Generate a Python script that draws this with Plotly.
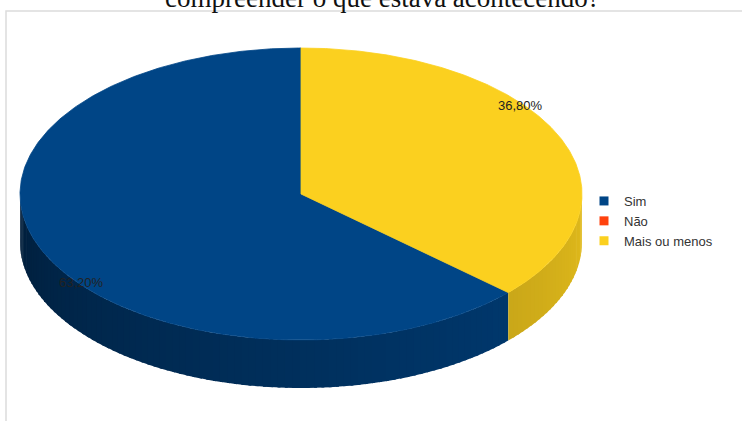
import numpy as np
import plotly.graph_objects as go

# ---- data ----
categories = ["Sim", "Não", "Mais ou menos"]
values = [63.2, 0.0, 36.8]
colors = ["#004586", "#ff420e", "#fbd01f"]
title_text = "compreender o que estava acontecendo?"

# ---- geometry of the tilted pie (pixel-like axis units) ----
W, H = 742, 421
cx, cy = 301, 194
a, b = 281, 146
depth = 48
lab_rx, lab_ry = 0.855 * a, 1.5 * b

total = sum(values)


def pt(phi_deg, rx=a, ry=b, dy=0.0):
    p = np.radians(phi_deg)
    return cx - rx * np.sin(p), cy - ry * np.cos(p) + dy


def hex_to_rgb(h):
    h = h.lstrip("#")
    return tuple(int(h[i:i + 2], 16) for i in (0, 2, 4))


def shade(h, k):
    r, g, bb = hex_to_rgb(h)
    return "rgb(%d,%d,%d)" % (min(255, r * k), min(255, g * k), min(255, bb * k))


# slice angles (counter-clockwise from 12 o'clock)
spans = []
start = 0.0
for v in values:
    ext = v / total * 360.0
    spans.append((start, start + ext))
    start += ext

fig = go.Figure()

# ---- side walls (front half only) ----
for (p0, p1), col in zip(spans, colors):
    lo, hi = max(p0, 90.0), min(p1, 270.0)
    if hi <= lo:
        continue
    n = max(1, int(np.ceil((hi - lo) / 1.5)))
    edges = np.linspace(lo, hi, n + 1)
    for i, (e0, e1) in enumerate(zip(edges[:-1], edges[1:])):
        e1x = min(hi, e1 + 0.6)
        ph = np.linspace(e0, e1x, 4)
        xs_t, ys_t = pt(ph)
        xs_b, ys_b = pt(ph[::-1], dy=depth)
        xs = np.concatenate([xs_t, xs_b])
        ys = np.concatenate([ys_t, ys_b])
        t = ((e0 + e1) / 2 - 90.0) / 180.0
        k = 0.42 + 0.48 * t ** 0.8
        c = shade(col, k)
        fig.add_trace(go.Scatter(x=xs, y=ys, mode="lines", fill="toself",
                                 fillcolor=c, line=dict(width=0),
                                 hoverinfo="skip", showlegend=False))

# ---- top faces ----
for (p0, p1), col in zip(spans, colors):
    if p1 - p0 <= 0:
        continue
    ph = np.linspace(p0, p1, max(3, int((p1 - p0) * 2)))
    xs, ys = pt(ph)
    xs = np.concatenate([[cx], xs, [cx]])
    ys = np.concatenate([[cy], ys, [cy]])
    fig.add_trace(go.Scatter(x=xs, y=ys, mode="lines", fill="toself",
                             fillcolor=col, line=dict(color=col, width=0.8),
                             hoverinfo="skip", showlegend=False))

# ---- value labels ----
for (p0, p1), v in zip(spans, values):
    if v <= 0:
        continue
    lx, ly = pt((p0 + p1) / 2, rx=lab_rx, ry=lab_ry)
    fig.add_annotation(x=lx, y=ly, text=("%.2f" % v).replace(".", ",") + "%",
                       showarrow=False, xanchor="center", yanchor="middle",
                       font=dict(family="Liberation Sans", size=13, color="#222222"))

# ---- legend entries ----
for name, col in zip(categories, colors):
    fig.add_trace(go.Scatter(x=[None], y=[None], mode="markers", name=name,
                             marker=dict(symbol="square", size=9, color=col)))

# ---- title (cut off at the top, as in the reference) ----
fig.add_annotation(xref="paper", yref="paper", x=382 / W, y=1 + 2 / H,
                   text=title_text, showarrow=False,
                   xanchor="center", yanchor="middle",
                   font=dict(family="Liberation Serif", size=27, color="#111111"))

# ---- frame ----
fig.add_shape(type="rect", x0=6, y0=11, x1=W + 5, y1=H + 5,
              line=dict(color="#dcdcdc", width=1.5), layer="below")

fig.update_layout(
    width=W, height=H,
    margin=dict(l=0, r=0, t=0, b=0),
    paper_bgcolor="white", plot_bgcolor="white",
    xaxis=dict(range=[0, W], visible=False, fixedrange=True),
    yaxis=dict(range=[H, 0], visible=False, fixedrange=True),
    showlegend=True,
    legend=dict(x=584 / W, y=1 - 221 / H, xanchor="left", yanchor="middle",
                bgcolor="rgba(0,0,0,0)", itemwidth=30,
                font=dict(family="Liberation Sans", size=13, color="#333333")),
)

fig.write_html("out.html", config={"displayModeBar": False},
               post_script="document.body.style.margin='0';document.body.style.overflow='hidden';")
